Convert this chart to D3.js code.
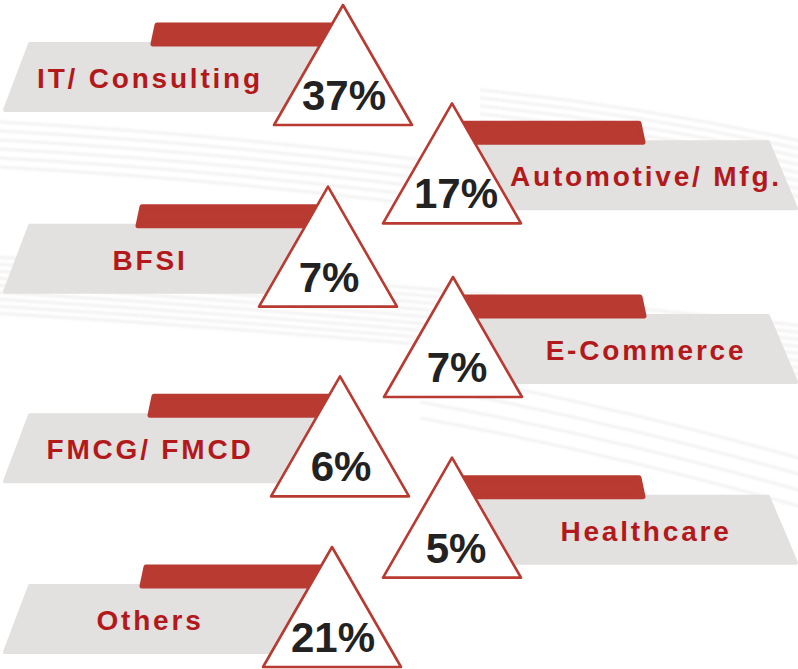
<!DOCTYPE html>
<html>
<head>
<meta charset="utf-8">
<script src="https://cdn.jsdelivr.net/npm/d3@7/dist/d3.min.js"></script>
<style>
  html, body { margin: 0; padding: 0; background: #fff; }
  svg { display: block; }
</style>
</head>
<body>
<svg id="chart" width="798" height="669"></svg>
<script>
(function() {

  // data
  const categories = ["IT/ Consulting", "Automotive/ Mfg.", "BFSI", "E-Commerce", "FMCG/ FMCD", "Healthcare", "Others"];
  const shares = [37, 17, 7, 7, 6, 5, 21];

  // layout tweaks (the original isn't perfectly regular)
  const nudgeY = [0, 8, 1, 1, 10, 1, 0];
  const nudgeX = [7, 0, -8, 1, 4, 0, -4];

  const RED = "#b83a31";
  const LABEL_RED = "#b3191b";
  const GREY = "#e3e0e0";
  const INK = "#222";
  const FONT = "'Liberation Sans', Arial, sans-serif";

  const triHalf = 69, triH = 120;

  const side = (i) => (i % 2 === 0 ? "left" : "right");
  const rowY = d3.scalePoint().domain(categories).range([5, 547]);
  const colX = d3.scaleOrdinal().domain(["left", "right"]).range([336, 452]);

  const rows = categories.map((c, i) => ({
    name: c,
    value: shares[i],
    side: side(i),
    ax: colX(side(i)) + nudgeX[i],
    ay: rowY(c) + nudgeY[i],
  }));

  const svg = d3.select("#chart");

  // faint streaky background
  const defs = svg.append("defs");
  defs.append("filter").attr("id", "soft")
    .append("feGaussianBlur").attr("stdDeviation", 1.2);

  const bg = svg.append("g").attr("class", "bg").attr("filter", "url(#soft)");
  const streaks = [
    { x0: -40, y0: 255, x1: 840, y1: 330, n: 9, gap: 7 },
    { x0: 480, y0: 90, x1: 840, y1: 150, n: 8, gap: 8 },
    { x0: 420, y0: 370, x1: 840, y1: 470, n: 4, gap: 16 },
    { x0: -40, y0: 120, x1: 500, y1: 170, n: 6, gap: 9 },
  ];
  streaks.forEach(s => {
    d3.range(s.n).forEach(k => {
      const p = d3.path();
      p.moveTo(s.x0, s.y0 + k * s.gap);
      p.quadraticCurveTo((s.x0 + s.x1) / 2, (s.y0 + s.y1) / 2 + k * s.gap - 12, s.x1, s.y1 + k * s.gap);
      bg.append("path")
        .attr("d", p.toString())
        .attr("fill", "none")
        .attr("stroke", "#d4d4d4")
        .attr("stroke-opacity", 0.3)
        .attr("stroke-width", 3);
    });
  });

  const item = svg.selectAll("g.item")
    .data(rows)
    .join("g")
    .attr("class", "item");

  // grey label band
  item.append("polygon")
    .attr("points", d => {
      const t = d.ay + 39, b = d.ay + 105;
      return d.side === "left"
        ? [[30, t], [d.ax, t], [d.ax, b], [5, b]].map(p => p.join(",")).join(" ")
        : [[d.ax, t], [768, t], [796, b], [d.ax, b]].map(p => p.join(",")).join(" ");
    })
    .attr("fill", GREY)
    .attr("stroke", GREY)
    .attr("stroke-width", 4)
    .attr("stroke-linejoin", "round");

  // red tab
  item.append("polygon")
    .attr("points", d => {
      const t = d.ay + 20, b = d.ay + 39;
      return d.side === "left"
        ? [[d.ax - 186, t], [d.ax, t], [d.ax, b], [d.ax - 190, b]].map(p => p.join(",")).join(" ")
        : [[d.ax, t], [d.ax + 187, t], [d.ax + 191, b], [d.ax, b]].map(p => p.join(",")).join(" ");
    })
    .attr("fill", RED)
    .attr("stroke", RED)
    .attr("stroke-width", 5)
    .attr("stroke-linejoin", "round");

  // label
  item.append("text")
    .attr("x", d => (d.side === "left" ? 150 : 646))
    .attr("y", d => d.ay + 83)
    .attr("text-anchor", "middle")
    .attr("font-family", FONT)
    .attr("font-size", 28)
    .attr("font-weight", 700)
    .attr("letter-spacing", 2.8)
    .attr("fill", LABEL_RED)
    .text(d => d.name);

  // triangle
  item.append("polygon")
    .attr("points", d => [[d.ax, d.ay], [d.ax - triHalf, d.ay + triH], [d.ax + triHalf, d.ay + triH]].map(p => p.join(",")).join(" "))
    .attr("fill", "#fff")
    .attr("stroke", RED)
    .attr("stroke-width", 2.6)
    .attr("stroke-linejoin", "round");

  // percentage
  item.append("text")
    .attr("x", d => d.ax + (d.side === "right" ? 4 : 1))
    .attr("y", d => d.ay + 105)
    .attr("text-anchor", "middle")
    .attr("font-family", FONT)
    .attr("font-size", 42)
    .attr("font-weight", 700)
    .attr("fill", INK)
    .text(d => d.value + "%");

})();
</script>
</body>
</html>
